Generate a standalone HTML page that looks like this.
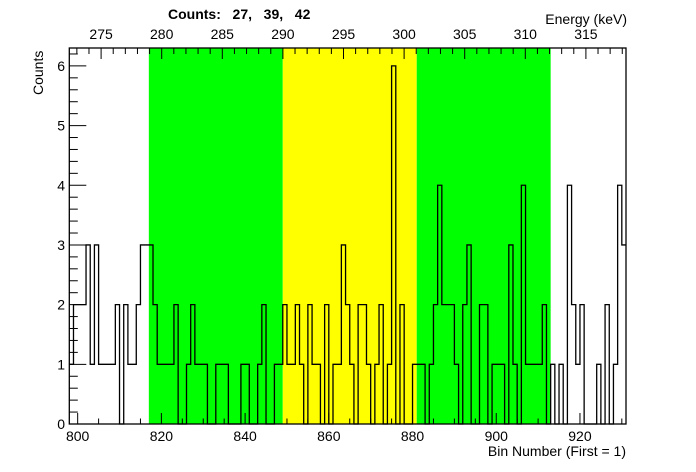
<!DOCTYPE html>
<html><head><meta charset="utf-8"><style>
html,body{margin:0;padding:0;background:#fff;}
svg{display:block;font-family:"Liberation Sans",Arial,sans-serif;}
</style></head><body>
<svg id="chart" width="696" height="472" viewBox="0 0 696 472" xmlns="http://www.w3.org/2000/svg">
<rect x="0" y="0" width="696" height="472" fill="#fff"/>
<g id="regions"></g>
<g id="hist"></g>
<g id="axes"></g>
<text x="168" y="19" font-size="14" font-weight="bold" xml:space="preserve">Counts:   27,   39,   42</text>
<text x="627" y="24" font-size="14" text-anchor="end">Energy (keV)</text>
<text x="626" y="456" font-size="14" text-anchor="end">Bin Number (First = 1)</text>
<text transform="translate(43,95) rotate(-90)" font-size="14">Counts</text>
</svg>
<script>
const binStart = 798;
const counts = [1,2,2,2,3,1,3,1,1,1,1,2,0,2,1,1,2,3,3,3,2,1,1,1,1,2,0,0,1,2,1,1,1,0,0,1,1,1,0,0,0,1,1,0,0,1,2,0,0,1,1,2,1,1,2,1,0,2,1,1,0,2,0,1,1,3,2,1,0,2,2,1,0,1,2,0,1,6,0,2,0,0,1,1,1,0,1,2,4,2,2,2,1,0,2,3,0,0,2,2,0,1,1,1,0,3,1,0,4,1,1,1,1,2,0,1,0,1,0,4,2,1,2,0,0,0,1,0,2,0,1,4,3];
const regionStarts = [817, 849, 881];
const regionEnds = [849, 881, 913];
const regionColors = ["#00ff00", "#ffff00", "#00ff00"];
const xTicks = [800, 820, 840, 860, 880, 900, 920];
const yTicks = [0, 1, 2, 3, 4, 5, 6];
const eTicks = [275, 280, 285, 290, 295, 300, 305, 310, 315];

const NS = "http://www.w3.org/2000/svg";
const L = 69.3, R = 626, T = 48, B = 424;
const xmin = binStart, xmax = binStart + counts.length;
const ymax = 6.3;
const X = v => L + (v - xmin) / (xmax - xmin) * (R - L);
const Y = v => B - v / ymax * (B - T);
const E0 = 280, EPX = 161.7, EPERPX = 12.12;
const XE = e => EPX + (e - E0) * EPERPX;

function mk(tag, attrs, parent) {
  const el = document.createElementNS(NS, tag);
  for (const k in attrs) el.setAttribute(k, attrs[k]);
  parent.appendChild(el);
  return el;
}
const reg = document.getElementById('regions');
for (let i = 0; i < regionStarts.length; i++) {
  const r = mk('rect', {x: X(regionStarts[i]), y: T, width: X(regionEnds[i]) - X(regionStarts[i]), height: B - T, fill: regionColors[i]}, reg);
  
  
}
const hist = document.getElementById('hist');
let d = '';
for (let i = 0; i < counts.length; i++) {
  const x0 = X(xmin + i), x1 = X(xmin + i + 1), y = Y(counts[i]);
  d += (i === 0 ? 'M' : 'L') + x0.toFixed(2) + ',' + y.toFixed(2) + 'L' + x1.toFixed(2) + ',' + y.toFixed(2);
}
const p = mk('path', {d: d, fill: 'none', stroke: '#000', 'stroke-width': 1.3}, hist);



const ax = document.getElementById('axes');
const fr = mk('rect', {x: L, y: T, width: R - L, height: B - T, fill: 'none', stroke: '#000', 'stroke-width': 1.3}, ax);


// bottom ticks
for (let v = 800; v <= xmax; v += 5) {
  const major = (v % 20 === 0);
  const t = mk('line', {x1: X(v), x2: X(v), y1: B, y2: B - (major ? 11 : 5.5), stroke: '#000', 'stroke-width': 1}, ax);
  
  
}
xTicks.forEach(v => {
  const t = mk('text', {x: X(v), y: 441, 'font-size': 14, 'text-anchor': 'middle'}, ax);
  t.textContent = v;
  
  
});
// y ticks
for (let k = 0; k <= 31; k++) {
  const v = k * 0.2;
  if (v > ymax) break;
  const major = (k % 5 === 0);
  const t = mk('line', {x1: L, x2: L + (major ? 17 : 8.5), y1: Y(v), y2: Y(v), stroke: '#000', 'stroke-width': 1}, ax);
  
  
}
yTicks.forEach(v => {
  const t = mk('text', {x: 65, y: Y(v) + 5, 'font-size': 14, 'text-anchor': 'end'}, ax);
  t.textContent = v;
  
  
});
// top energy axis
for (let e = 273; e <= 318; e++) {
  const x = XE(e);
  if (x < L || x > R) continue;
  const major = (e % 5 === 0);
  const t = mk('line', {x1: x, x2: x, y1: T, y2: T + (major ? 11 : 6), stroke: '#000', 'stroke-width': 1}, ax);
  
  
}
eTicks.forEach(e => {
  const t = mk('text', {x: XE(e), y: 39, 'font-size': 14, 'text-anchor': 'middle'}, ax);
  t.textContent = e;
  
  
});
</script>
</body></html>
